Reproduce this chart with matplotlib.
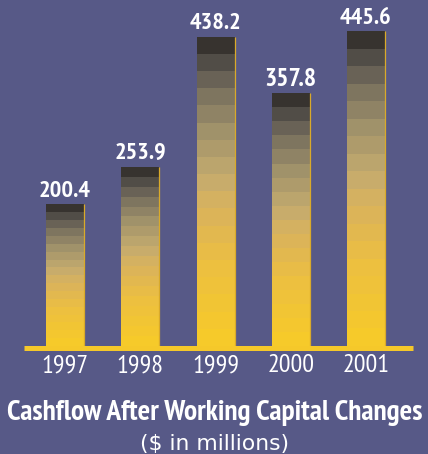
import matplotlib
matplotlib.use('Agg')
import matplotlib.pyplot as plt
from matplotlib import font_manager
import numpy as np
from matplotlib.colors import LinearSegmentedColormap

years = ['1997', '1998', '1999', '2000', '2001']
values = [200.4, 253.9, 438.2, 357.8, 445.6]

BG = '#575987'
GOLD = '#f5c82a'
# stripe colours from bottom (yellow) to top (dark grey)
stripe_cmap = LinearSegmentedColormap.from_list(
    'stripes', [(0.0, '#f6ca2a'), (0.25, '#ecbf40'), (0.45, '#d8b25e'),
                (0.55, '#c4ab6e'), (0.7, '#a2936a'), (0.82, '#7f7660'),
                (0.92, '#5b5650'), (1.0, '#37332f')])
n_stripes = 18


def pick_condensed():
    # condensed sans face that has both a regular and a bold weight
    faces = {}
    for f in font_manager.fontManager.ttflist:
        n = f.name
        if ('Condensed' in n or 'Narrow' in n) and 'Serif' not in n and 'Mono' not in n \
                and 'Display' not in n:
            w = f.weight if isinstance(f.weight, int) else font_manager.weight_dict.get(f.weight, 400)
            faces.setdefault(n, set()).add(w)
    good = [n for n, ws in faces.items() if any(w >= 700 for w in ws) and any(380 <= w <= 450 for w in ws)]
    good.sort(key=lambda n: (0 if 'Narrow' in n else 1 if 'Roboto' in n else 2 if 'Sans' in n else 3, n))
    return good[0] if good else 'Liberation Sans'


narrow = [pick_condensed(), 'DejaVu Sans']


def fit(fig, txt, width_px):
    fig.canvas.draw()
    w = txt.get_window_extent(fig.canvas.get_renderer()).width
    txt.set_fontsize(txt.get_fontsize() * width_px / w)


def main():
    fig = plt.figure(figsize=(4.28, 4.54), dpi=100, facecolor=BG)
    ax = fig.add_axes([0, 0, 1, 1])
    ax.set_facecolor(BG)
    ax.set_xlim(-0.864, 4.824)
    ax.set_ylim(-153, 490)
    ax.axis('off')

    x = np.arange(len(years))
    width = 0.505

    for xi, v in zip(x, values):
        seg = v / n_stripes
        for k in range(n_stripes):
            ax.bar(xi, seg, width=width, bottom=k * seg,
                   color=stripe_cmap(k / (n_stripes - 1)), linewidth=0)
        ax.vlines(xi + width / 2, 0, v, color='#d9aa2a', lw=0.9)

    labels = []
    for xi, v in zip(x, values):
        labels.append(ax.text(xi, v + 4, f'{v:.1f}', ha='center', va='bottom',
                              color='white', fontsize=15, fontweight='bold', family=narrow))

    # baseline
    ax.plot([-0.55, 4.63], [-3.5, -3.5], color=GOLD, lw=3.6, solid_capstyle='butt')

    ylabels = []
    for xi, y in zip(x, years):
        ylabels.append(ax.text(xi, -28, y, ha='center', va='center', color='white',
                               fontsize=15, family=narrow))

    title = ax.text(1.99, -95, 'Cashflow After Working Capital Changes', ha='center',
                    va='center', color='white', fontsize=15, fontweight='bold', family=narrow)
    sub = ax.text(1.99, -139, '($ in millions)', ha='center', va='center',
                  color='white', fontsize=12.5, family='DejaVu Sans')

    for t in labels:
        fit(fig, t, 52)
    for t in ylabels:
        fit(fig, t, 47)
    fit(fig, title, 416)
    fit(fig, sub, 150)

    fig.savefig('out.png', dpi=100, facecolor=BG)


if __name__ == '__main__':
    main()
